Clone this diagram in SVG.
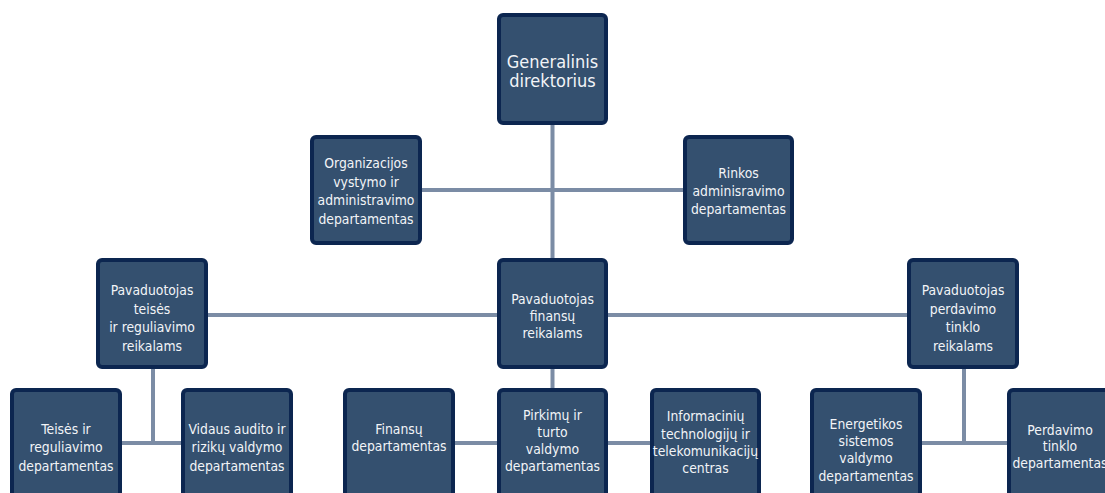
<svg xmlns="http://www.w3.org/2000/svg" width="1105" height="493" viewBox="0 0 1105 493">
<style>
.box{fill:#34506f;stroke:#0c2650;stroke-width:4}
.lbl{font-family:"DejaVu Sans Condensed","DejaVu Sans","Liberation Sans",sans-serif;font-stretch:condensed;font-size:13.8px;fill:#f2f4f7;text-anchor:middle}
.big{font-size:18px}
.con{stroke:#7b8ca5;stroke-width:4;fill:none}
</style>
<rect width="1105" height="493" fill="#ffffff"/>
<g id="connectors">
<line class="con" x1="552.5" y1="124" x2="552.5" y2="260"/>
<line class="con" x1="420" y1="190" x2="685" y2="190"/>
<line class="con" x1="206" y1="315" x2="909" y2="315"/>
<line class="con" x1="552.5" y1="367" x2="552.5" y2="390"/>
<line class="con" x1="455" y1="443" x2="652" y2="443"/>
<line class="con" x1="153" y1="367" x2="153" y2="443"/>
<line class="con" x1="120" y1="443" x2="183" y2="443"/>
<line class="con" x1="964" y1="367" x2="964" y2="443"/>
<line class="con" x1="920" y1="443" x2="1009" y2="443"/>
</g>
<g id="generalinis">
<rect class="box" x="499" y="15" width="107" height="108" rx="4"/>
<text class="lbl big" x="552.5" y="68">Generalinis</text>
<text class="lbl big" x="552.5" y="87">direktorius</text>
</g>
<g id="organizacijos">
<rect class="box" x="312" y="137" width="108" height="106" rx="4"/>
<text class="lbl" x="366" y="168">Organizacijos</text>
<text class="lbl" x="366" y="186.5">vystymo ir</text>
<text class="lbl" x="366" y="205">administravimo</text>
<text class="lbl" x="366" y="223.5">departamentas</text>
</g>
<g id="rinkos">
<rect class="box" x="685" y="137" width="107" height="106" rx="4"/>
<text class="lbl" x="738.5" y="178">Rinkos</text>
<text class="lbl" x="738.5" y="196">adminisravimo</text>
<text class="lbl" x="738.5" y="214">departamentas</text>
</g>
<g id="pav-teises">
<rect class="box" x="98" y="260" width="108" height="107" rx="4"/>
<text class="lbl" x="152" y="295">Pavaduotojas</text>
<text class="lbl" x="152" y="313.5">teisės</text>
<text class="lbl" x="152" y="332">ir reguliavimo</text>
<text class="lbl" x="152" y="350.5">reikalams</text>
</g>
<g id="pav-finansu">
<rect class="box" x="499" y="260" width="107" height="107" rx="4"/>
<text class="lbl" x="552.5" y="303.5">Pavaduotojas</text>
<text class="lbl" x="552.5" y="320.5">finansų</text>
<text class="lbl" x="552.5" y="337.5">reikalams</text>
</g>
<g id="pav-perdavimo">
<rect class="box" x="909" y="260" width="108" height="107" rx="4"/>
<text class="lbl" x="963" y="295">Pavaduotojas</text>
<text class="lbl" x="963" y="313.5">perdavimo</text>
<text class="lbl" x="963" y="332">tinklo</text>
<text class="lbl" x="963" y="350.5">reikalams</text>
</g>
<g id="teises-dep">
<rect class="box" x="12" y="390" width="108" height="112" rx="4"/>
<text class="lbl" x="66" y="433.5">Teisės ir</text>
<text class="lbl" x="66" y="452">reguliavimo</text>
<text class="lbl" x="66" y="470.5">departamentas</text>
</g>
<g id="vidaus-audito">
<rect class="box" x="183" y="390" width="108" height="112" rx="4"/>
<text class="lbl" x="237" y="433.5">Vidaus audito ir</text>
<text class="lbl" x="237" y="452">rizikų valdymo</text>
<text class="lbl" x="237" y="470.5">departamentas</text>
</g>
<g id="finansu-dep">
<rect class="box" x="345" y="390" width="108" height="112" rx="4"/>
<text class="lbl" x="399" y="433.5">Finansų</text>
<text class="lbl" x="399" y="451">departamentas</text>
</g>
<g id="pirkimu-dep">
<rect class="box" x="499" y="390" width="107" height="112" rx="4"/>
<text class="lbl" x="552.5" y="420">Pirkimų ir</text>
<text class="lbl" x="552.5" y="437">turto</text>
<text class="lbl" x="552.5" y="454">valdymo</text>
<text class="lbl" x="552.5" y="471">departamentas</text>
</g>
<g id="it-centras">
<rect class="box" x="652" y="390" width="107" height="112" rx="4"/>
<text class="lbl" x="705.5" y="421">Informacinių</text>
<text class="lbl" x="705.5" y="438.5">technologijų ir</text>
<text class="lbl" x="705.5" y="456">telekomunikacijų</text>
<text class="lbl" x="705.5" y="473">centras</text>
</g>
<g id="energetikos-dep">
<rect class="box" x="812" y="390" width="108" height="112" rx="4"/>
<text class="lbl" x="866" y="428.5">Energetikos</text>
<text class="lbl" x="866" y="446">sistemos</text>
<text class="lbl" x="866" y="463">valdymo</text>
<text class="lbl" x="866" y="480.5">departamentas</text>
</g>
<g id="perdavimo-dep">
<rect class="box" x="1009" y="390" width="108" height="112" rx="4"/>
<text class="lbl" x="1060" y="434.5">Perdavimo</text>
<text class="lbl" x="1060" y="451">tinklo</text>
<text class="lbl" x="1060" y="468">departamentas</text>
</g>
</svg>
